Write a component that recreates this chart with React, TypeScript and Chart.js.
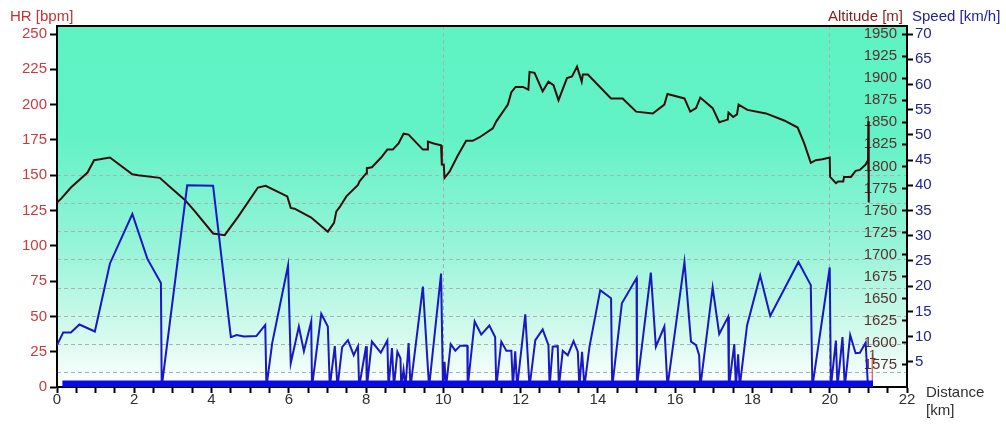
import React, { useEffect, useRef } from 'react';
import { Chart, registerables } from 'chart.js';

Chart.register(...registerables);

// ---------- data ----------
const altitudeKm = [
  0.0, 0.12, 0.36, 0.79, 0.96, 1.11, 1.37, 1.95, 2.1, 2.66, 2.97, 3.31, 3.57, 4.04, 4.34, 4.69,
  5.2, 5.4, 5.96, 6.05, 6.15, 6.58, 7.01, 7.17, 7.23, 7.32, 7.49, 7.79, 7.83, 8.0, 8.02, 8.15,
  8.39, 8.55, 8.69, 8.84, 8.97, 9.1, 9.47, 9.58, 9.6, 9.75, 9.94, 9.96, 10.01, 10.03, 10.16,
  10.37, 10.59, 10.76, 10.94, 11.28, 11.37, 11.67, 11.76, 11.87, 12.06, 12.2, 12.23, 12.36,
  12.57, 12.72, 12.85, 12.98, 13.2, 13.33, 13.46, 13.58, 13.61, 13.74, 14.34, 14.64, 14.99,
  15.42, 15.72, 15.8, 16.24, 16.39, 16.54, 16.65, 16.97, 17.14, 17.36, 17.38, 17.5, 17.6,
  17.64, 17.87, 18.35, 18.82, 19.17, 19.34, 19.51, 19.64, 19.81, 20.0, 20.01, 20.16, 20.22,
  20.35, 20.37, 20.55, 20.67, 20.78, 20.93, 20.99, 21.0, 21.01,
];
const altitudeM = [
  1759, 1764, 1776, 1793, 1807, 1808, 1810, 1791, 1790, 1787, 1775, 1762, 1749, 1724, 1722, 1743,
  1776, 1778, 1766, 1753, 1752, 1742, 1726, 1736, 1749, 1754, 1766, 1779, 1783, 1792, 1798, 1799,
  1810, 1819, 1819, 1826, 1837, 1836, 1819, 1819, 1828, 1826, 1824, 1802, 1802, 1787, 1794,
  1812, 1829, 1829, 1833, 1843, 1851, 1870, 1884, 1890, 1890, 1887, 1907, 1906,
  1885, 1896, 1892, 1875, 1900, 1902, 1913, 1896, 1904, 1904, 1877, 1877, 1862,
  1860, 1870, 1882, 1877, 1862, 1866, 1878, 1866, 1850, 1853, 1861, 1856, 1859,
  1870, 1864, 1860, 1852, 1844, 1826, 1804, 1807, 1808, 1810, 1788, 1781, 1783,
  1783, 1788, 1788, 1795, 1796, 1802, 1807, 1851, 1759,
];

const speedKm = [
  0.0, 0.16, 0.36, 0.58, 0.98, 1.37, 1.95, 2.34, 2.69, 2.71, 3.37, 4.04, 4.5, 4.65, 4.84, 5.16,
  5.39, 5.42, 5.57, 5.98, 6.05, 6.26, 6.39, 6.58, 6.6, 6.84, 7.01, 7.06, 7.19, 7.26, 7.38, 7.53,
  7.68, 7.79, 7.82, 8.0, 8.02, 8.15, 8.38, 8.55, 8.58, 8.67, 8.72, 8.81, 8.89, 8.91, 8.97, 9.02,
  9.1, 9.15, 9.47, 9.63, 9.94, 9.99, 10.03, 10.07, 10.19, 10.31, 10.44, 10.62, 10.63, 10.81,
  10.98, 11.19, 11.34, 11.37, 11.5, 11.63, 11.76, 11.8, 11.86, 11.91, 12.12, 12.23, 12.38,
  12.57, 12.72, 12.75, 12.83, 12.96, 12.99, 13.09, 13.22, 13.37, 13.48, 13.52, 13.59, 13.65,
  13.78, 14.06, 14.34, 14.37, 14.62, 15.0, 15.01, 15.37, 15.5, 15.72, 15.8, 16.24, 16.41,
  16.54, 16.62, 16.65, 16.97, 17.14, 17.37, 17.39, 17.53, 17.57, 17.63, 17.67, 17.86, 18.2,
  18.46, 19.19, 19.51, 19.55, 20.0, 20.03, 20.16, 20.2, 20.33, 20.39, 20.53, 20.67, 20.78,
  20.93, 20.99,
];
const speedKmh = [
  8.3, 10.8, 10.8, 12.4, 11.0, 24.5, 34.3, 25.4, 20.6, 0, 40.0, 39.9, 9.9, 10.3, 10.0, 10.1,
  12.3, 0, 8.7, 24.1, 4.7, 12.0, 7.1, 13.0, 0, 14.5, 12.0, 0, 8.1, 0, 7.9, 9.3,
  6.3, 8.1, 0, 8.1, 0, 9.0, 6.8, 9.2, 0, 7.7, 0, 7.0, 5.7, 0, 3.4, 0,
  8.7, 0, 19.9, 0, 22.5, 0, 5.0, 0, 8.5, 7.2, 8.2, 8.2, 0, 13.0,
  10.4, 12.2, 9.9, 0, 9.0, 7.2, 7.2, 0, 7.1, 0, 14.4, 0, 9.3,
  11.4, 8.3, 0, 8.0, 8.1, 0, 7.2, 6.3, 9.1, 7.0, 0, 7.0, 0,
  7.9, 19.2, 17.6, 0, 16.6, 21.6, 0, 22.7, 8.0, 12.0, 0, 24.8, 9.0,
  8.3, 6.3, 0, 19.7, 10.5, 13.9, 0, 8.5, 0, 6.5, 0, 12.2, 22.1,
  14.1, 24.8, 20.2, 0, 23.7, 0, 9.2, 0, 9.9, 0, 10.3, 6.7, 6.8,
  8.8, 0,
];

const baseBarKm = [0.14, 21.12];
const baseBarKmh = [0.6, 0.6];
const hrKm = [21.1, 21.1];
const hrBpm = [0, 24];

const hrTicks = [0, 25, 50, 75, 100, 125, 150, 175, 200, 225, 250];
const altitudeTicks = [1575, 1600, 1625, 1650, 1675, 1700, 1725, 1750, 1775, 1800, 1825, 1850, 1875, 1900, 1925, 1950];
const speedTicks = [5, 10, 15, 20, 25, 30, 35, 40, 45, 50, 55, 60, 65, 70];
const distanceLabels = [0, 2, 4, 6, 8, 10, 12, 14, 16, 18, 20, 22];
const distanceMinorStep = 0.5;
const hrGridLines = [10, 30, 50, 70, 90, 110, 130, 150];
const distanceGridLines = [10, 20];

// axis ranges (chart area slightly taller than the labelled range)
const HR_MAX = 255.67;
const ALT_MIN = 1550;
const ALT_MAX = 1959.07;
const SPD_MAX = 71.59;
const X_MAX = 22;

const FONT = '"Liberation Sans", Arial, sans-serif';

const zip = (xs: number[], ys: number[]) => xs.map((x, i) => ({ x, y: ys[i] }));

const decorPlugin = {
  id: 'decor',
  beforeDraw(chart: any) {
    const { ctx, chartArea } = chart;
    const g = ctx.createLinearGradient(0, chartArea.top, 0, chartArea.bottom);
    g.addColorStop(0, '#5ef3c3');
    g.addColorStop(0.3, '#62f2c5');
    g.addColorStop(0.62, '#98f4d8');
    g.addColorStop(0.86, '#d6faee');
    g.addColorStop(1, '#ffffff');
    ctx.save();
    ctx.fillStyle = g;
    ctx.fillRect(chartArea.left, chartArea.top, chartArea.right - chartArea.left, chartArea.bottom - chartArea.top);
    ctx.restore();
  },
  afterDraw(chart: any) {
    const { ctx, chartArea } = chart;
    ctx.save();
    ctx.strokeStyle = '#000';
    ctx.lineWidth = 2;
    ctx.beginPath();
    ctx.moveTo(chartArea.left - 1, chartArea.top);
    ctx.lineTo(chartArea.right + 1, chartArea.top);
    ctx.stroke();

    ctx.font = `15px ${FONT}`;
    ctx.textBaseline = 'alphabetic';
    ctx.fillStyle = '#c83030';
    ctx.textAlign = 'left';
    ctx.fillText('HR [bpm]', 10, 21);
    ctx.fillStyle = '#8a1c1c';
    ctx.textAlign = 'right';
    ctx.fillText('Altitude [m]', 903, 21);
    ctx.fillStyle = '#22229a';
    ctx.textAlign = 'left';
    ctx.fillText('Speed [km/h]', 912, 21);
    ctx.fillStyle = '#303030';
    ctx.fillText('Distance', 926, 397);
    ctx.fillText('[km]', 926, 415);
    ctx.fillStyle = '#6a3030';
    ctx.font = `13px ${FONT}`;
    ctx.fillText('1', 869, 359);
    ctx.restore();
  },
};

export default function App() {
  const ref = useRef<HTMLCanvasElement | null>(null);

  useEffect(() => {
    if (!ref.current) return;
    const minorTicks: { value: number }[] = [];
    for (let v = 0; v <= X_MAX + 1e-9; v += distanceMinorStep) minorTicks.push({ value: Math.round(v * 10) / 10 });

    const font = { family: FONT, size: 15 };
    const plain = (v: any) => String(v);

    const chart = new Chart(ref.current, {
      type: 'line',
      data: {
        datasets: [
          {
            label: 'base',
            data: zip(baseBarKm, baseBarKmh),
            yAxisID: 'ySpeed',
            borderColor: '#0a0ae8',
            borderWidth: 7,
            pointRadius: 0,
            borderCapStyle: 'butt',
          },
          {
            label: 'HR',
            data: zip(hrKm, hrBpm),
            yAxisID: 'y',
            borderColor: '#e03030',
            borderWidth: 1,
            pointRadius: 0,
          },
          {
            label: 'Speed',
            data: zip(speedKm, speedKmh),
            yAxisID: 'ySpeed',
            borderColor: '#1818c4',
            borderWidth: 2,
            pointRadius: 0,
            tension: 0,
          },
          {
            label: 'Altitude',
            data: zip(altitudeKm, altitudeM),
            yAxisID: 'yAlt',
            borderColor: '#3a0c0c',
            borderWidth: 2,
            pointRadius: 0,
            tension: 0,
          },
        ],
      },
      options: {
        responsive: false,
        animation: false,
        events: [],
        layout: { padding: { top: 26, left: 0, right: 0, bottom: 0 } },
        plugins: { legend: { display: false }, tooltip: { enabled: false }, title: { display: false } },
        scales: {
          x: {
            type: 'linear',
            position: 'bottom',
            min: 0,
            max: X_MAX,
            afterBuildTicks: (s: any) => { s.ticks = minorTicks.map((t) => ({ ...t })); },
            afterFit: (s: any) => { s.height = 38; },
            ticks: {
              autoSkip: false,
              maxRotation: 0,
              padding: -2,
              color: '#303030',
              font,
              callback: (v: any) => (distanceLabels.includes(Number(v)) ? String(v) : ''),
            },
            grid: {
              drawOnChartArea: true,
              color: (c: any) => (c.tick && distanceGridLines.includes(c.tick.value) ? '#a8b0b0' : 'rgba(0,0,0,0)'),
              tickColor: '#000',
              tickLength: 6,
              tickWidth: 2,
              lineWidth: 1,
            },
            border: { display: true, color: '#000', width: 2, dash: [4, 3] },
          },
          y: {
            type: 'linear',
            position: 'left',
            weight: 1,
            min: 0,
            max: HR_MAX,
            afterBuildTicks: (s: any) => { s.ticks = hrTicks.map((v) => ({ value: v })); },
            afterFit: (s: any) => { s.width = 57; },
            ticks: { color: '#c83c3c', font, padding: 3, callback: plain },
            grid: { drawOnChartArea: false, tickColor: '#000', tickLength: 7, tickWidth: 2 },
            border: { color: '#000', width: 2 },
          },
          yGrid: {
            type: 'linear',
            position: 'left',
            weight: 0,
            min: 0,
            max: HR_MAX,
            afterBuildTicks: (s: any) => { s.ticks = hrGridLines.map((v) => ({ value: v })); },
            afterFit: (s: any) => { s.width = 0; },
            ticks: { display: false },
            grid: { drawOnChartArea: true, drawTicks: false, color: '#a8b4b0', lineWidth: 1 },
            border: { display: false, dash: [4, 3] },
          },
          yAlt: {
            type: 'linear',
            position: 'right',
            weight: 0,
            min: ALT_MIN,
            max: ALT_MAX,
            afterBuildTicks: (s: any) => { s.ticks = altitudeTicks.map((v) => ({ value: v })); },
            afterFit: (s: any) => { s.width = 0; },
            ticks: { mirror: true, padding: -10, color: '#5a3030', font, callback: plain },
            grid: { display: true, drawOnChartArea: false, drawTicks: true, tickLength: -5, tickColor: '#000', tickWidth: 2 },
            border: { display: false },
          },
          ySpeed: {
            type: 'linear',
            position: 'right',
            weight: 1,
            min: 0,
            max: SPD_MAX,
            afterBuildTicks: (s: any) => { s.ticks = speedTicks.map((v) => ({ value: v })); },
            afterFit: (s: any) => { s.width = 99; },
            ticks: { color: '#24248c', font, padding: 2, callback: plain },
            grid: { drawOnChartArea: false, tickColor: '#000', tickLength: 6, tickWidth: 2 },
            border: { color: '#000', width: 2 },
          },
        },
      } as any,
      plugins: [decorPlugin],
    });
    return () => chart.destroy();
  }, []);

  return (
    <div style={{ position: 'absolute', left: 0, top: 0, width: 1006, height: 425, background: '#fff' }}>
      <canvas ref={ref} width={1006} height={425} style={{ display: 'block' }} />
    </div>
  );
}
